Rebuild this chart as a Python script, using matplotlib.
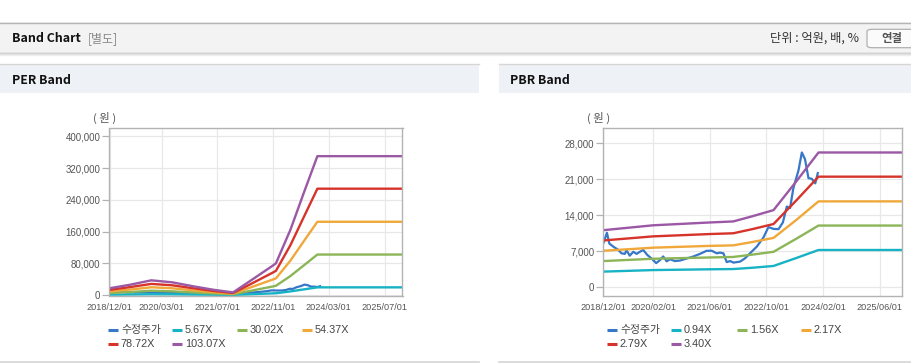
import matplotlib
matplotlib.use('Agg')
import matplotlib.pyplot as plt
from matplotlib.patches import Rectangle, FancyBboxPatch
from matplotlib.lines import Line2D
import matplotlib.ticker as mticker
import numpy as np

plt.rcParams['font.family'] = ['Liberation Sans', 'Noto Sans CJK KR', 'DejaVu Sans']

# ---------------- data ----------------
series_names = ['수정주가']
per_multiples = ['5.67X', '30.02X', '54.37X', '78.72X', '103.07X']
pbr_multiples = ['0.94X', '1.56X', '2.17X', '2.79X', '3.40X']

price_dates = ['2018-12-01', '2019-01-01', '2019-01-22', '2019-02-25', '2019-04-07', '2019-05-07',
               '2019-06-04', '2019-06-18', '2019-07-16', '2019-08-15', '2019-09-13', '2019-10-11',
               '2019-11-09', '2019-12-13', '2020-01-19', '2020-02-28', '2020-04-01', '2020-04-28',
               '2020-05-28', '2020-06-25', '2020-08-07', '2020-09-19', '2020-11-16', '2021-01-13',
               '2021-03-10', '2021-05-06', '2021-06-19', '2021-08-01', '2021-08-28', '2021-09-27',
               '2021-10-25', '2021-11-24', '2021-12-22', '2022-02-18', '2022-04-01', '2022-05-13',
               '2022-07-10', '2022-09-06', '2022-10-18', '2022-12-01', '2023-01-13', '2023-02-19',
               '2023-03-25', '2023-04-22', '2023-05-20', '2023-07-04', '2023-08-01', '2023-08-28',
               '2023-09-27', '2023-10-25', '2023-11-24', '2023-12-16']
price_values = [8550, 10600, 8500, 7900, 7300, 6600,
                6500, 7200, 6150, 6900, 6500, 6900,
                7250, 6300, 5600, 4700, 5300, 6000,
                5050, 5450, 5100, 5200, 5600, 6000,
                6500, 7100, 7100, 6600, 6750, 6600,
                4900, 5100, 4800, 5000, 5650, 6600,
                7900, 9700, 11700, 11350, 11300, 12600,
                15700, 15400, 19250, 22800, 26200, 24900,
                21200, 21100, 20200, 22200]

per_dates = ['2018-12-01', '2019-06-01', '2019-12-01', '2020-06-01', '2020-12-01', '2021-06-01',
             '2021-11-15', '2022-04-01', '2022-10-28', '2022-11-25', '2023-04-01', '2023-08-01',
             '2023-11-22', '2025-12-01']
per_band_1 = [900, 1400, 2000, 1800, 1200, 700, 400, 1800, 4100, 4400, 9100, 14400, 19300, 19300]
per_band_2 = [5000, 7600, 10800, 9300, 6400, 3800, 1900, 9600, 21500, 23300, 48000, 76000, 102000, 102000]
per_band_3 = [9000, 13700, 19500, 17000, 11600, 6900, 3400, 17400, 39000, 42000, 87000, 138000, 184600, 184600]
per_band_4 = [13000, 20000, 28000, 24500, 17000, 10000, 5000, 25000, 56500, 61000, 126000, 200000, 268000, 268000]
per_band_5 = [17000, 26000, 37000, 32000, 22000, 13000, 6500, 33000, 74000, 80000, 165000, 262000, 350000, 350000]

pbr_dates = ['2018-12-01', '2020-02-01', '2021-06-01', '2021-12-20', '2022-06-01', '2022-12-01',
             '2023-06-15', '2023-12-22', '2025-12-01']
pbr_band_1 = [3050, 3350, 3500, 3550, 3800, 4150, 5700, 7250, 7250]
pbr_band_2 = [5100, 5550, 5800, 5900, 6350, 6900, 9450, 12000, 12000]
pbr_band_3 = [7100, 7700, 8050, 8150, 8800, 9600, 13100, 16700, 16700]
pbr_band_4 = [9100, 9900, 10350, 10500, 11300, 12300, 16900, 21500, 21500]
pbr_band_5 = [11100, 12050, 12600, 12800, 13800, 15000, 20600, 26200, 26200]

per_xticks = ['2018-12-01', '2020-03-01', '2021-07-01', '2022-11-01', '2024-03-01', '2025-07-01']
pbr_xticks = ['2018-12-01', '2020-02-01', '2021-06-01', '2022-10-01', '2024-02-01', '2025-06-01']
per_yticks = [0, 80000, 160000, 240000, 320000, 400000]
pbr_yticks = [0, 7000, 14000, 21000, 28000]

colors = ['#3777c8', '#17b3c4', '#8cb558', '#f0a83a', '#d6332b', '#9b58a5']

# ---------------- figure ----------------
W, H = 912, 364
fig = plt.figure(figsize=(W / 100, H / 100), dpi=100)
fig.patch.set_facecolor('white')
CJK = ['Noto Sans CJK KR', 'DejaVu Sans']


def fx(x):
    return x / W


def fy(y):
    return 1 - y / H


def rect(x0, y0, x1, y1, color, z=-5):
    fig.add_artist(Rectangle((fx(x0), fy(y1)), (x1 - x0) / W, (y1 - y0) / H,
                             transform=fig.transFigure, facecolor=color, edgecolor='none', zorder=z))


def hline(x0, x1, y, color, lw=1.0, z=-4):
    fig.add_artist(Line2D([fx(x0), fx(x1)], [fy(y), fy(y)], transform=fig.transFigure,
                          color=color, lw=lw, zorder=z))


# top header bar
rect(0, 22, W, 53, '#f3f3f3')
hline(0, W, 22.5, '#b4b4b4')
hline(0, W, 52.8, '#a8a8a8')
hline(0, W, 54.0, '#dcdcdc', lw=1.2)
hline(0, W, 55.2, '#eeeeee', lw=1.0)

# panel headers
for (a, b) in [(0, 479), (499, W)]:
    rect(a, 64.5, b, 92.7, '#eef1f6')
    hline(a, b, 64.2, '#d6d6d6')
    hline(a, b, 362.0, '#d6d6d6', lw=1.2)

fig.text(fx(12), fy(38.5), 'Band Chart', fontsize=8.9, fontweight='bold', color='#111111',
         va='center', ha='left', family=CJK)
fig.text(fx(88), fy(38.5), '[별도]', fontsize=8.6, color='#888888',
         va='center', ha='left', family=CJK)
fig.text(fx(859.5), fy(38.5), '단위 : 억원, 배, %', fontsize=8.8, color='#333333',
         va='center', ha='right', family=CJK)
fig.add_artist(FancyBboxPatch((fx(867), fy(47.7)), (W + 8 - 867) / W, (47.7 - 29.3) / H,
                              boxstyle='round,pad=0,rounding_size=0.006', transform=fig.transFigure,
                              facecolor='#fbfbfb', edgecolor='#b0b0b0', lw=0.9, zorder=-3))
fig.text(fx(892), fy(38.5), '연결', fontsize=8.2, fontweight='bold', color='#555555',
         va='center', ha='center', family=CJK)

fig.text(fx(12), fy(80), 'PER Band', fontsize=8.9, fontweight='bold', color='#111111',
         va='center', ha='left', family=CJK)
fig.text(fx(510), fy(80), 'PBR Band', fontsize=8.9, fontweight='bold', color='#111111',
         va='center', ha='left', family=CJK)


def make_axes(x0, y0, x1, y1):
    return fig.add_axes([fx(x0), fy(y1), (x1 - x0) / W, (y1 - y0) / H])


def style_axes(ax, xticks, yticks, ylim):
    ax.set_facecolor('white')
    for s in ax.spines.values():
        s.set_color('#b3b3b3')
        s.set_linewidth(1.0)
    ax.set_xlim(np.datetime64('2018-12-01'), np.datetime64('2025-12-05'))
    ax.set_ylim(*ylim)
    xt = [np.datetime64(d) for d in xticks]
    ax.set_xticks(xt)
    ax.set_xticklabels([d.replace('-', '/') for d in xticks])
    ax.set_yticks(yticks)
    ax.yaxis.set_major_formatter(mticker.FuncFormatter(lambda v, p: f'{v:,.0f}'))
    ax.grid(True, color='#e8e8e8', lw=0.9)
    ax.set_axisbelow(True)
    ax.tick_params(axis='y', length=5, width=0.9, color='#b3b3b3', labelsize=7.0,
                   labelcolor='#555555', pad=1.5)
    ax.tick_params(axis='x', length=0, labelsize=6.6, labelcolor='#555555', pad=5)


def draw(ax, dates, bands, ylim, xticks, yticks):
    style_axes(ax, xticks, yticks, ylim)
    ax.plot(np.array(price_dates, dtype='datetime64[D]'), price_values, color=colors[0], lw=1.6,
            solid_joinstyle='round')
    d = np.array(dates, dtype='datetime64[D]')
    for i, b in enumerate(bands):
        ax.plot(d, b, color=colors[i + 1], lw=1.7, solid_joinstyle='round')


ax1 = make_axes(109.5, 128, 402.5, 295.6)
draw(ax1, per_dates, [per_band_1, per_band_2, per_band_3, per_band_4, per_band_5],
     (-1500, 421000), per_xticks, per_yticks)
ax2 = make_axes(603.3, 128.3, 901.7, 295.7)
draw(ax2, pbr_dates, [pbr_band_1, pbr_band_2, pbr_band_3, pbr_band_4, pbr_band_5],
     (-1630, 30900), pbr_xticks, pbr_yticks)

fig.text(fx(93), fy(118), '( 원 )', fontsize=8.2, color='#555555', va='center', ha='left',
         family=CJK)
fig.text(fx(587), fy(118), '( 원 )', fontsize=8.2, color='#555555', va='center', ha='left',
         family=CJK)


def legend(cols_x, labels):
    rows_y = [330, 344]
    for i, (lab, col) in enumerate(zip(labels, colors)):
        r, c = divmod(i, 4)
        x = cols_x[c]
        y = rows_y[r]
        fig.add_artist(Line2D([fx(x), fx(x + 10)], [fy(y), fy(y)], transform=fig.transFigure,
                              color=col, lw=2.2, solid_capstyle='butt'))
        fig.text(fx(x + 13), fy(y), lab, fontsize=7.8, color='#444444', va='center', ha='left')


legend([108, 172, 237, 302], series_names + per_multiples)
legend([607, 671, 737, 801], series_names + pbr_multiples)

fig.savefig('out.png', dpi=100)
